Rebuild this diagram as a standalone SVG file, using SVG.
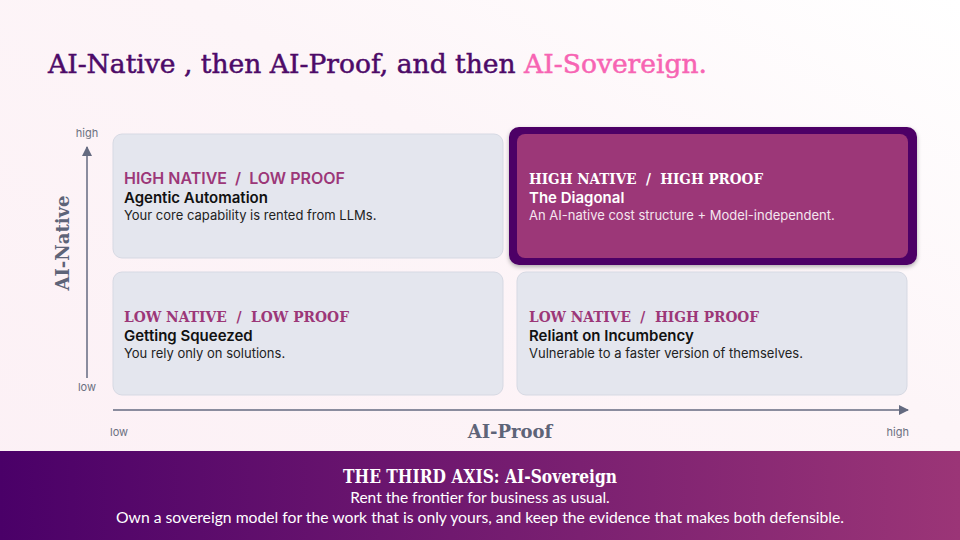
<svg xmlns="http://www.w3.org/2000/svg" width="960" height="540" viewBox="0 0 960 540">
<defs>
<linearGradient id="bg" x1="0" y1="1" x2="1" y2="0">
<stop offset="0" stop-color="#fcf0f5"/>
<stop offset="0.6" stop-color="#fdf5f8"/>
<stop offset="1" stop-color="#ffffff"/>
</linearGradient>
<linearGradient id="band" x1="0" y1="0" x2="1" y2="0">
<stop offset="0" stop-color="#4a0068"/>
<stop offset="1" stop-color="#9b3577"/>
</linearGradient>
<marker id="arr" viewBox="0 0 10 10" refX="9" refY="5" markerWidth="10" markerHeight="10" markerUnits="userSpaceOnUse" orient="auto">
<path d="M0,0 L10,5 L0,10 z" fill="#646a80"/>
</marker>
<filter id="sh" x="-10%" y="-20%" width="120%" height="140%">
<feDropShadow dx="0" dy="2" stdDeviation="2" flood-color="#000" flood-opacity="0.3"/>
</filter>
<style>
.box{fill:#e4e6ee;stroke:#d6d9e3;stroke-width:1}
.lblS{font-family:"Inter","Noto Sans",sans-serif;font-weight:600;font-size:15.5px;fill:#9c3778;white-space:pre}
.lbl{font-family:"DejaVu Serif","Liberation Serif",serif;font-weight:bold;font-size:15px;fill:#9c3778;white-space:pre}
.ttl{font-family:"Inter","Noto Sans",sans-serif;font-weight:600;font-size:15px;fill:#111}
.dsc{font-family:"Inter","Noto Sans",sans-serif;font-size:13px;fill:#222}
.ax{stroke:#646a80;stroke-width:1.5;fill:none}
.tick{font-family:"Inter","Noto Sans",sans-serif;font-size:11px;fill:#6b7080}
.axl{font-family:"DejaVu Serif","Liberation Serif",serif;font-weight:bold;font-size:18px;fill:#5e6478}
.bt{font-family:"Lato","Liberation Sans",sans-serif;fill:#fff;text-anchor:middle}
</style>
</defs>
<rect width="960" height="540" fill="url(#bg)"/>
<text x="48" y="73" font-family="DejaVu Serif, Liberation Serif, serif" font-size="26" fill="#4d0a68" stroke="#4d0a68" stroke-width="0.5" textLength="659" lengthAdjust="spacingAndGlyphs">AI-Native , then AI-Proof, and then <tspan fill="#f764b3" stroke="#f764b3">AI-Sovereign.</tspan></text>

<g id="connectors">
<line class="ax" x1="87" y1="378" x2="87" y2="147" marker-end="url(#arr)"/>
<line class="ax" x1="113" y1="410" x2="908" y2="410" marker-end="url(#arr)"/>
</g>
<g id="axis-labels">
<text class="tick" x="87" y="137" text-anchor="middle">high</text>
<text class="tick" x="87" y="391" text-anchor="middle">low</text>
<text class="tick" x="110" y="436">low</text>
<text class="tick" x="909" y="436" text-anchor="end">high</text>
<text class="axl" transform="translate(69,243) rotate(-90)" text-anchor="middle">AI-Native</text>
<text class="axl" x="510" y="438" text-anchor="middle">AI-Proof</text>
</g>

<g id="q-tl">
<rect class="box" x="113" y="134" width="390" height="124" rx="9"/>
<text class="lblS" x="124" y="184" textLength="221" lengthAdjust="spacingAndGlyphs">HIGH NATIVE  /  LOW PROOF</text>
<text class="ttl" x="124" y="203">Agentic Automation</text>
<text class="dsc" x="124" y="220">Your core capability is rented from LLMs.</text>
</g>
<g id="q-tr">
<rect x="509" y="127" width="408" height="138" rx="10" fill="#4d0066" filter="url(#sh)"/>
<rect x="517" y="134" width="391" height="124" rx="8" fill="#9c3778"/>
<text class="lbl" x="529" y="184" style="fill:#fff" textLength="234" lengthAdjust="spacingAndGlyphs">HIGH NATIVE  /  HIGH PROOF</text>
<text class="ttl" x="529" y="203" style="fill:#fff">The Diagonal</text>
<text class="dsc" x="529" y="220" style="fill:#f4e6ef">An AI-native cost structure + Model-independent.</text>
</g>
<g id="q-bl">
<rect class="box" x="113" y="272" width="390" height="123" rx="9"/>
<text class="lbl" x="124" y="322" textLength="225" lengthAdjust="spacingAndGlyphs">LOW NATIVE  /  LOW PROOF</text>
<text class="ttl" x="124" y="341">Getting Squeezed</text>
<text class="dsc" x="124" y="358">You rely only on solutions.</text>
</g>
<g id="q-br">
<rect class="box" x="517" y="272" width="390" height="123" rx="9"/>
<text class="lbl" x="529" y="322" textLength="230" lengthAdjust="spacingAndGlyphs">LOW NATIVE  /  HIGH PROOF</text>
<text class="ttl" x="529" y="341">Reliant on Incumbency</text>
<text class="dsc" x="529" y="358">Vulnerable to a faster version of themselves.</text>
</g>

<g id="banner">
<rect x="0" y="451" width="960" height="89" fill="url(#band)"/>
<text class="bt" x="480" y="483" font-size="19" font-weight="bold" style="font-family:'DejaVu Serif','Liberation Serif',serif" textLength="274" lengthAdjust="spacingAndGlyphs">THE THIRD AXIS: AI-Sovereign</text>
<text class="bt" x="480" y="503" font-size="15.5">Rent the frontier for business as usual.</text>
<text class="bt" x="480" y="523" font-size="15.5" textLength="728" lengthAdjust="spacingAndGlyphs">Own a sovereign model for the work that is only yours, and keep the evidence that makes both defensible.</text>
</g>
</svg>
